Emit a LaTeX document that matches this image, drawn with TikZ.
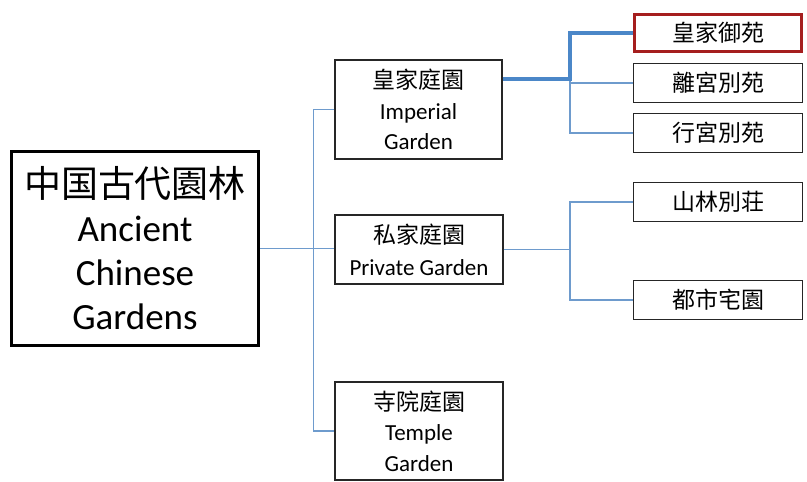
\documentclass[tikz,border=0pt]{standalone}
\usepackage{fontspec}
\setmainfont{Carlito}
\newfontfamily\cjk{Noto Sans CJK TC}
\definecolor{thinblue}{RGB}{110,155,205}
\definecolor{thickblue}{RGB}{75,135,200}
\definecolor{boxred}{RGB}{165,30,30}
\tikzset{
  box/.style={draw=black!85, line width=1.2pt, rectangle, inner sep=0pt, align=center, fill=white},
  midbox/.style={box, font=\fontsize{23}{30.5}\selectfont},
  leafbox/.style={box, minimum width=169pt, minimum height=39pt, font=\cjk\fontsize{23}{28}\selectfont},
  rootbox/.style={draw=black, line width=3.5pt, rectangle, inner sep=0pt, align=center,
    minimum width=247pt, minimum height=194pt, font=\fontsize{37}{44}\selectfont},
  thinline/.style={draw=thinblue, line width=1.1pt},
  thickline/.style={draw=thickblue, line width=3.2pt, line join=miter},
}
\begin{document}
\begin{tikzpicture}[x=1pt,y=-1pt]
\useasboundingbox (0,0) rectangle (807,482);
\fill[white] (0,0) rectangle (807,482);

\coordinate (ib) at (570,79);
\coordinate (pb) at (570,249.5);

\node[rootbox] (root) at (135,248.5) {{\cjk 中国古代園林}\\Ancient\\Chinese\\Gardens};
\node[midbox, minimum width=167pt, minimum height=99pt] (imp) at (418.5,109.5) {{\cjk 皇家庭園}\\Imperial\\Garden};
\node[midbox, minimum width=168pt, minimum height=69pt, font=\fontsize{23}{32}\selectfont] (pri) at (419,249.5) {{\cjk 私家庭園}\\Private Garden};
\node[midbox, minimum width=168pt, minimum height=98pt] (tem) at (419,431) {{\cjk 寺院庭園}\\Temple\\Garden};

\node[leafbox, draw=boxred, line width=3pt, minimum width=167pt, minimum height=37pt] (r1) at (718,33) {皇家御苑};
\node[leafbox] (r2) at (718,83) {離宮別苑};
\node[leafbox] (r3) at (718,133) {行宮別苑};
\node[leafbox] (r4) at (718,202) {山林別荘};
\node[leafbox] (r5) at (718,300) {都市宅園};

% trunk
\draw[thinline] (root.east) -- (root.east -| pri.west);
\draw[thinline] (imp.west) -- ++(-21,0) |- (tem.west);

% imperial branch
\draw[thinline] (ib) |- (r3.west);
\draw[thinline] (ib |- r2.west) -- (r2.west);
\draw[thickline] ([yshift=30.5pt]imp.east) -- (ib) |- (r1.west);

% private branch
\draw[thinline] (pri.east) -- (pb);
\draw[thinline] (r4.west) -| (pb) |- (r5.west);
\end{tikzpicture}
\end{document}
